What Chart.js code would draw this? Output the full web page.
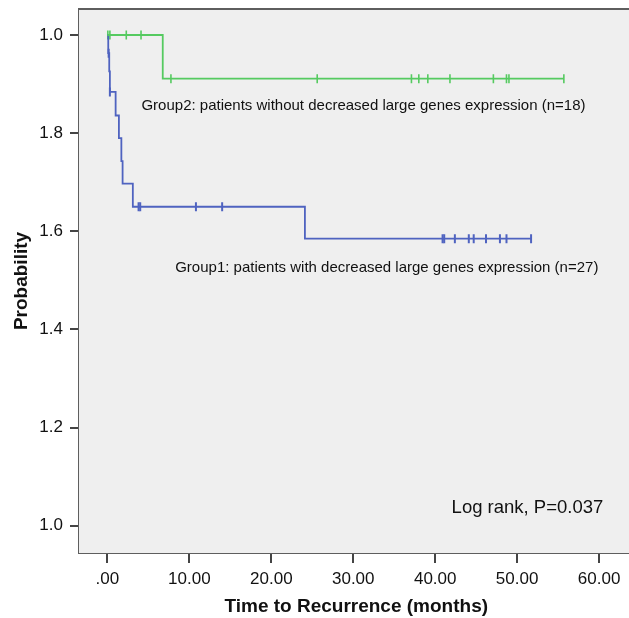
<!DOCTYPE html>
<html>
<head>
<meta charset="utf-8">
<script src="https://cdn.jsdelivr.net/npm/chart.js@4.4.1/dist/chart.umd.min.js"></script>
<style>
  html, body { margin: 0; padding: 0; background: #fff; }
  #wrap { width: 629px; height: 618px; overflow: hidden; position: relative; }
  #wrap canvas { position: absolute; left: 0; top: 0; }
</style>
</head>
<body>
<div id="wrap"><canvas id="km_chart" width="640" height="618"></canvas></div>
<script>
"use strict";

// x axis labels (months) and y axis labels, as printed on the figure
var xTickLabels = [".00", "10.00", "20.00", "30.00", "40.00", "50.00", "60.00"];
var yTickLabels = ["1.0", "1.2", "1.4", "1.6", "1.8", "1.0"]; // bottom to top

// Group2: step curve (time in months, survival)
var g2Time = [0, 6.75, 55.7];
var g2Surv = [1.0, 0.911, 0.911];
// Group2: censored cases
var g2CensTime = [0.05, 0.3, 2.3, 4.1, 7.75, 25.6, 37.1, 38.0, 39.1, 41.8, 47.1, 48.7, 49.0, 55.7];
var g2CensSurv = [1.0, 1.0, 1.0, 1.0, 0.911, 0.911, 0.911, 0.911, 0.911, 0.911, 0.911, 0.911, 0.911, 0.911];

// Group1: step curve
var g1Time = [0, 0.1, 0.22, 0.3, 1.0, 1.4, 1.7, 1.85, 3.1, 24.1, 51.8];
var g1Surv = [1.0, 0.963, 0.926, 0.884, 0.836, 0.790, 0.743, 0.697, 0.650, 0.585, 0.585];
// Group1: censored cases
var g1CensTime = [0.15, 0.3, 3.8, 4.0, 10.8, 14.0, 40.9, 41.1, 42.4, 44.1, 44.7, 46.2, 47.9, 48.7, 51.7];
var g1CensSurv = [0.963, 0.884, 0.650, 0.650, 0.650, 0.650, 0.585, 0.585, 0.585, 0.585, 0.585, 0.585, 0.585, 0.585, 0.585];

var green = "#55ca60";
var blue = "#4f63c0";

function toPoints(xs, ys) {
  return xs.map(function (x, i) {
    return { x: x, y: ys[i] };
  });
}

// grey plot background, top frame line and the text notes
var framePlugin = {
  id: "frame",
  beforeDatasetsDraw: function (chart) {
    var ctx = chart.ctx;
    var a = chart.chartArea;
    ctx.save();
    ctx.fillStyle = "#efefef";
    ctx.fillRect(a.left, a.top, a.right - a.left, a.bottom - a.top);
    ctx.strokeStyle = "#5e5e5e";
    ctx.lineWidth = 2;
    ctx.beginPath();
    ctx.moveTo(a.left, a.top);
    ctx.lineTo(a.right, a.top);
    ctx.stroke();
    ctx.restore();
  },
  afterDatasetsDraw: function (chart) {
    var ctx = chart.ctx;
    var xs = chart.scales.x;
    var ys = chart.scales.y;
    ctx.save();
    ctx.fillStyle = "#111";
    ctx.textAlign = "left";
    ctx.textBaseline = "middle";
    ctx.font = "15px 'Liberation Sans', Arial, sans-serif";
    ctx.fillText("Group2: patients without decreased large genes expression (n=18)",
      xs.getPixelForValue(4.15), ys.getPixelForValue(0.855));
    ctx.fillText("Group1: patients with decreased large genes expression (n=27)",
      xs.getPixelForValue(8.27), ys.getPixelForValue(0.525));
    ctx.font = "18.5px 'Liberation Sans', Arial, sans-serif";
    ctx.fillText("Log rank, P=0.037", xs.getPixelForValue(42.0), ys.getPixelForValue(0.036));
    ctx.restore();
  },
};

var axisFont = { family: "'Liberation Sans', Arial, sans-serif", size: 17 };
var titleFont = { family: "'Liberation Sans', Arial, sans-serif", size: 19, weight: "bold" };

new Chart("km_chart", {
  type: "line",
  data: {
    datasets: [
      {
        data: toPoints(g2Time, g2Surv),
        borderColor: green,
        borderWidth: 1.8,
        stepped: true,
        pointRadius: 0,
      },
      {
        data: toPoints(g1Time, g1Surv),
        borderColor: blue,
        borderWidth: 1.8,
        stepped: true,
        pointRadius: 0,
      },
      {
        data: toPoints(g2CensTime, g2CensSurv),
        showLine: false,
        pointStyle: "line",
        rotation: 90,
        pointRadius: 4.5,
        borderColor: green,
        borderWidth: 1.6,
      },
      {
        data: toPoints(g1CensTime, g1CensSurv),
        showLine: false,
        pointStyle: "line",
        rotation: 90,
        pointRadius: 4.5,
        borderColor: blue,
        borderWidth: 2,
      },
    ],
  },
  options: {
    responsive: false,
    animation: false,
    events: [],
    layout: { padding: { top: 9, left: 0, right: 0, bottom: 0 } },
    plugins: {
      legend: { display: false },
      tooltip: { enabled: false },
    },
    scales: {
      x: {
        type: "linear",
        min: -3.47,
        max: 64.2,
        afterFit: function (scale) {
          scale.height = 65;
          scale.paddingLeft = 0;
          scale.paddingRight = 0;
        },
        ticks: {
          stepSize: 10,
          includeBounds: false,
          maxRotation: 0,
          padding: 6,
          color: "#111",
          font: axisFont,
          callback: function (value) {
            return xTickLabels[Math.round(value / 10)];
          },
        },
        grid: {
          drawOnChartArea: false,
          color: "#444",
          lineWidth: 2,
          tickLength: 10,
        },
        border: { color: "#5e5e5e", width: 2 },
        title: {
          display: true,
          text: "Time to Recurrence (months)",
          color: "#111",
          font: titleFont,
          padding: { top: 0, bottom: 0 },
        },
      },
      y: {
        min: -0.0556,
        max: 1.053,
        afterFit: function (scale) {
          scale.width = 79;
          scale.paddingTop = 0;
          scale.paddingBottom = 0;
        },
        ticks: {
          stepSize: 0.2,
          includeBounds: false,
          padding: 7,
          color: "#111",
          font: axisFont,
          callback: function (value, index) {
            return yTickLabels[index];
          },
        },
        grid: {
          drawOnChartArea: false,
          color: "#444",
          lineWidth: 2,
          tickLength: 9,
        },
        border: { color: "#5e5e5e", width: 2 },
        title: {
          display: true,
          text: "Probability",
          color: "#111",
          font: titleFont,
          padding: { top: 10, bottom: 0 },
        },
      },
    },
  },
  plugins: [framePlugin],
});
</script>
</body>
</html>
